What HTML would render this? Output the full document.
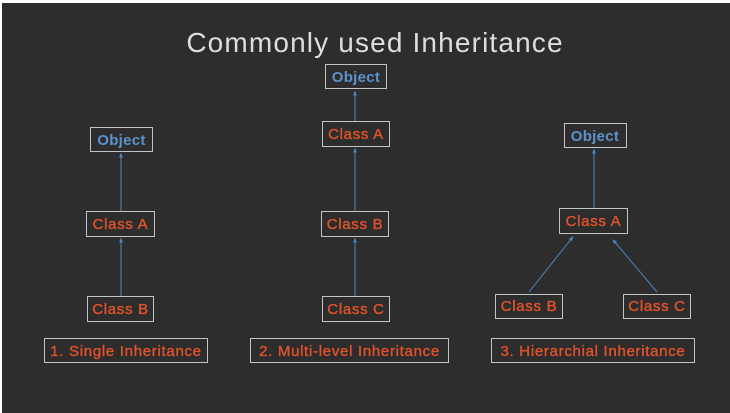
<!DOCTYPE html>
<html><head><style>
html,body{margin:0;padding:0;background:#fff;}
svg{display:block;}
text{font-family:"Liberation Sans",sans-serif;}
</style></head><body>
<svg width="730" height="413" viewBox="0 0 730 413" xmlns="http://www.w3.org/2000/svg">
<rect x="2" y="3" width="728" height="410" fill="#2d2d2d"/>
<text x="375" y="52" text-anchor="middle" font-size="28" fill="#dedede" letter-spacing="1.15">Commonly used Inheritance</text>
<defs><marker id="a" markerWidth="5" markerHeight="5" refX="2.5" refY="2.5" orient="auto"><path d="M0,0.5 L5,2.5 L0,4.5 z" fill="#4a86bd"/></marker></defs>
<g stroke="#4a86bd" stroke-width="1" marker-end="url(#a)">
<line x1="121" y1="296" x2="121" y2="240"/>
<line x1="121" y1="211" x2="121" y2="155"/>
<line x1="355" y1="296" x2="355" y2="240"/>
<line x1="355" y1="211" x2="355" y2="150"/>
<line x1="355" y1="121" x2="355" y2="93"/>
<line x1="594" y1="208" x2="594" y2="151"/>
<line x1="529" y1="292" x2="572" y2="238"/>
<line x1="657" y1="292" x2="614" y2="241"/>
</g>
<g fill="#2d2d2d" stroke="#c4c4c4" stroke-width="1">
<rect x="90.5" y="127.5" width="62" height="24"/>
<rect x="86.5" y="211.5" width="68" height="25"/>
<rect x="87.5" y="296.5" width="66" height="25"/>
<rect x="44.5" y="338.5" width="163" height="24"/>
<rect x="325.5" y="64.5" width="61" height="24"/>
<rect x="322.5" y="121.5" width="67" height="25"/>
<rect x="321.5" y="211.5" width="67" height="25"/>
<rect x="322.5" y="296.5" width="67" height="25"/>
<rect x="250.5" y="338.5" width="198" height="24"/>
<rect x="564.5" y="123.5" width="62" height="24"/>
<rect x="559.5" y="208.5" width="68" height="25"/>
<rect x="495.5" y="294.5" width="67" height="24"/>
<rect x="623.5" y="294.5" width="67" height="24"/>
<rect x="491.5" y="338.5" width="203" height="24"/>
</g>
<g font-size="15" text-anchor="middle" font-weight="bold">
<g fill="#5b93cc" letter-spacing="0.3">
<text x="121.5" y="145">Object</text>
<text x="356" y="82">Object</text>
<text x="595" y="141">Object</text>
</g>
<g fill="#e4532a" font-weight="normal" stroke="#e4532a" stroke-width="0.35" letter-spacing="0.7">
<text x="120.5" y="229">Class A</text>
<text x="120.5" y="314">Class B</text>
<text x="126" y="356">1. Single Inheritance</text>
<text x="356" y="139">Class A</text>
<text x="355" y="229">Class B</text>
<text x="356" y="314">Class C</text>
<text x="349.5" y="356">2. Multi-level Inheritance</text>
<text x="593.5" y="226">Class A</text>
<text x="529" y="311">Class B</text>
<text x="657" y="311">Class C</text>
<text x="593" y="356">3. Hierarchial Inheritance</text>
</g>
</g>
</svg>
</body></html>
